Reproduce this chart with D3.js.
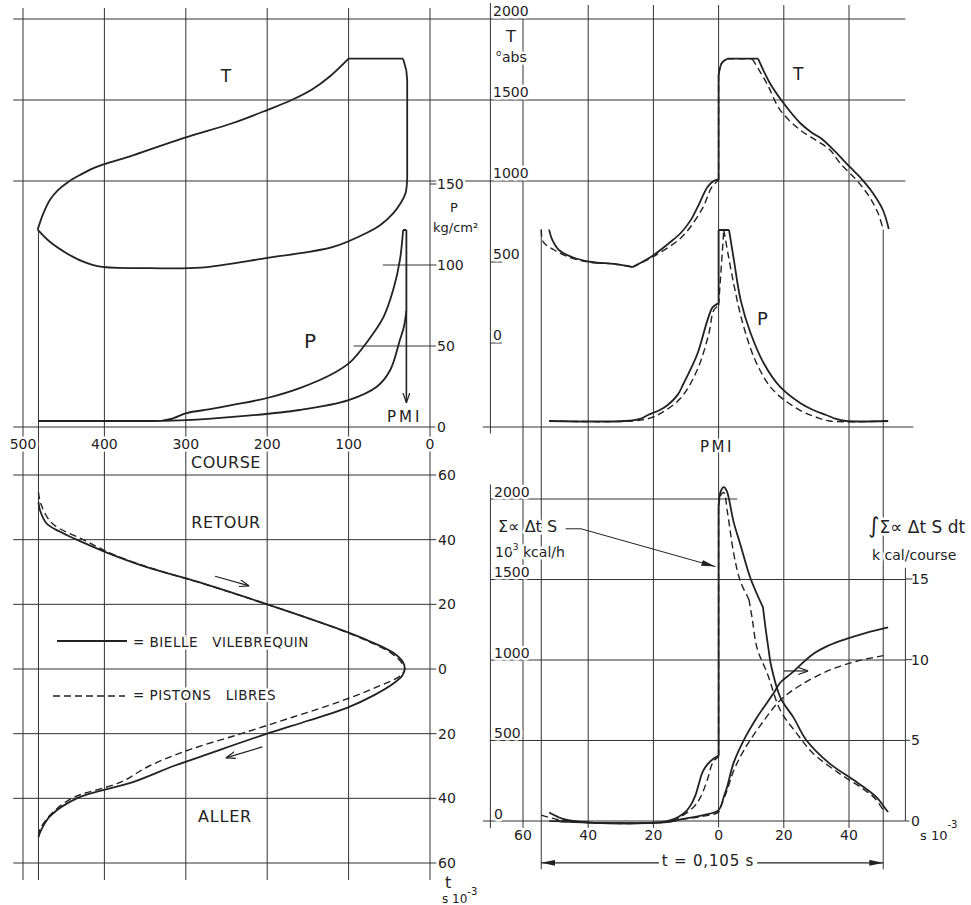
<!DOCTYPE html>
<html>
<head>
<meta charset="utf-8">
<script src="https://cdn.jsdelivr.net/npm/d3@7"></script>
<style>
body { margin: 0; background: #fff; }
svg text { font-family: "DejaVu Sans", sans-serif; fill: #222; white-space: pre; }
.halo { paint-order: stroke; stroke: #fff; stroke-width: 5px; stroke-linejoin: round; }
</style>
</head>
<body>
<svg id="chart" width="971" height="905"></svg>
<script>
// ---- data ----
// third element = 1 marks a corner (curve is broken there)

// top-left: T (abs) against course (mm)
const tCourseLoop = [[482,700,1],[475,800],[467,883],[457,944],[444,996],[430,1037],[414,1078],[397,1109],
  [364,1160],[303,1265],[242,1358],[200,1438],[170,1500],[145,1565],[122,1650],[100,1755,1],[33,1755,1],
  [29,1680,1],[28,1620,1],[28,1020,1],[30,926],[36,864],[45,802],[61,728],[78,679],[119,593],[200,525],
  [282,465],[344,462],[405,471],[426,502],[446,553],[467,625],[482,700,1]];
// top-left: P (kg/cm2) against course
const pCourseLoop = [[481,3.7,1],[330,3.7,1],[315,5.5],[299,8.6],[270,11],[242,13.6],[200,17.9],[160,24],
  [119,33],[98,40],[78,52],[57,68],[45,85],[37,103],[33,121.6,1],[29,121.6,1],[29,72,1],[32,62],[37,53.7],
  [49,35],[65,25],[100,16.6],[160,10.5],[242,6.2],[300,4.2],[340,3.7]];
const pmiArrow = [[29,72],[29,15]];

// bottom-left: course against t (ms)
const strokeSolid = [[481,51.6],[479,49],[471,45],[455,42.5],[434,40],[397,36],[348,31.5],[286,27],[200,20],
  [119,13],[78,9],[45,5],[33,2],[31,0],[34,-2],[45,-4.5],[68,-8],[102,-12],[150,-16],[200,-20],[258,-25],
  [286,-27.5],[315,-30],[365,-35],[434,-40],[467,-45.6],[478,-50],[481,-52]];
const strokeDashed = [[481,54.7],[478,51],[464,45],[426,40],[390,35.5],[340,31],[280,26.5],[200,20],
  [125,13.5],[80,9],[48,5],[35,2],[31,0],[36,-2],[60,-5],[110,-10],[170,-15],[232,-20],[296,-25],[345,-30],
  [380,-35],[440,-40],[466,-45],[478,-49],[481,-51]];
const arrowRetour = [[264,28.7],[222,25.7]];
const arrowAller = [[206,-24.1],[251,-27.5]];

// top-right: T against t
const tTimeSolid = [[-52,700,1],[-51,636],[-49,574],[-45,531],[-39,500],[-32,488],[-26.4,469,1],[-20.8,531],
  [-15,620],[-11.6,679],[-8.5,760],[-6.4,840],[-3.4,963],[-1.5,1000],[0,1010,1],[0,1654,1],[1,1728],
  [2.7,1755,1],[12.1,1755,1],[15.8,1602],[19.9,1481],[25,1358],[28.5,1300],[31.5,1262],[35.1,1195],
  [40.2,1088],[43.3,1025],[47.3,926],[50.4,821],[52.2,704]];
const tTimeDashed = [[-54.4,700,1],[-53.8,624],[-50.4,574],[-46,531],[-40,500],[-32,488],[-26.4,469,1],
  [-19,545],[-11,660],[-5,830],[-2,965],[0,1005,1],[0,1654,1],[1,1730],[2.7,1755,1],[10.3,1755,1],
  [14.8,1602],[18.9,1438],[25,1315],[30,1250],[34.2,1191],[37.2,1111],[42.3,1006],[46.3,901],[48.9,802],
  [50.5,700]];
// top-right: P against t
const pTimeSolid = [[-52,3.7,1],[-29,3.7],[-24,5],[-21.7,7.4],[-18,10.5],[-15.6,13.6],[-12.5,20],[-10.7,27],
  [-8.5,36],[-6.4,45.7],[-3.4,66],[-1.8,74],[0,76.5,1],[0,121.6,1],[3.2,121.6,1],[4.7,103],[6.8,78],
  [9.8,58],[13.8,39.5],[18.9,24.7],[25,14.8],[29,10.5],[33,7.4],[36,5],[39,3.7],[52,3.7]];
const pTimeDashed = [[-52,3.7,1],[-26,3.7],[-21,5.5],[-17.8,8.4],[-11.7,17.7],[-6.6,35],[-3,57.6],[-1.5,72],
  [0,75,1],[1.6,121.6,1],[4.6,88.7],[7.7,61.9],[11.7,39.1],[16.8,22.6],[25,10.3],[30,6],[34,3.7],[52,3.7]];

// bottom-right: heat flux (10^3 kcal/h) and its integral (kcal/course) against t
const fluxSolid = [[-52,53],[-48,15],[-45,2],[-40,-8],[-30,-14],[-20,-10],[-16,-2],[-14,10],[-12,30],
  [-10,60],[-8.5,100],[-7,165],[-6,235],[-5,300],[-3.5,350],[-1.5,388],[0,407,1],[0,1963,1],[0.7,2050],
  [1.6,2074],[2.5,2050],[4.6,1858],[6.7,1716],[9.8,1506],[13.6,1328,1],[14.4,1198],[15.4,1055],[16,975],
  [19,765],[23,642],[27,500],[34,358],[42.4,241],[48.4,148],[51.5,68],[52,56]];
const fluxDashed = [[-54.4,37],[-50,12],[-46,0],[-40,-9],[-30,-14],[-20,-10],[-15,-1],[-11.6,27],[-7.6,88],
  [-5.5,150],[-3.5,253],[-1.7,366],[0,400,1],[0,1950,1],[0.8,2030],[1.6,2040],[2.7,1920],[4.7,1654],
  [6.7,1488],[9.3,1377,1],[10.3,1259],[11.8,1074],[15,913],[19,685],[24,543],[29,420],[37,296],[44,204],
  [48,140],[50.5,68]];
const intSolid = [[-50,0],[-40,-0.1],[-25,-0.15],[-15,-0.05],[-11.7,0.1],[-4.6,0.37],[0,0.68],[1.6,1.5],
  [2.6,2.1],[4.6,3.6],[7.7,5.0],[11.7,6.4],[16.8,7.9],[19,8.6],[22,9.1],[29,10.35],[34,10.9],[39.4,11.3],
  [45,11.65],[52,12.0]];
const intDashed = [[-52,0],[-40,-0.1],[-25,-0.15],[-15,-0.05],[-11.7,0.08],[-4.6,0.3],[0,0.55],[0.6,0.86],
  [2.6,1.9],[4.6,3.1],[7.8,4.4],[13.8,6.2],[19,7.5],[25,8.4],[34,9.35],[42.3,9.9],[50.5,10.25]];
const intArrow = [[20,9.3],[27.5,9.3]];
const fluxLeader = [[-46.9,1815],[-42.2,1815],[-1,1580]];
const period = [-54.4, 50.5];

// tick values
const courseTicks = [500, 400, 300, 200, 100, 0];
const pTicks = [150, 100, 50, 0];
const tempTicks = [2000, 1500, 1000, 500, 0];
const timeTicks = [-60, -40, -20, 0, 20, 40];
const strokeTimeTicks = [60, 40, 20, 0, -20, -40, -60];
const fluxTicks = [2000, 1500, 1000, 500, 0];
const intTicks = [15, 10, 5, 0];

// ---- scales ----
const xC = d3.scaleLinear().domain([500, 0]).range([23, 430]);
const yT = d3.scaleLinear().domain([0, 2000]).range([343, 19]);
const yP = d3.scaleLinear().domain([0, 150]).range([427, 184]);
const xt = d3.scaleLinear().domain([-60, 40]).range([523, 849]);
const yF = d3.scaleLinear().domain([0, 2000]).range([821, 499]);
const yI = d3.scaleLinear().domain([0, 15]).range([821, 579]);
const ys = d3.scaleLinear().domain([-60, 60]).range([863, 475]);

const svg = d3.select("#chart");
const ink = "#222";

const defs = svg.append("defs");
defs.append("marker").attr("id", "open").attr("viewBox", "0 0 10 8")
  .attr("refX", 10).attr("refY", 4).attr("markerWidth", 10).attr("markerHeight", 8)
  .attr("markerUnits", "userSpaceOnUse").attr("orient", "auto")
  .append("path").attr("d", "M0,0.5 L10,4 L0,7.5").attr("fill", "none").attr("stroke", ink).attr("stroke-width", 1.2);
defs.append("marker").attr("id", "solidhead").attr("viewBox", "0 0 14 6")
  .attr("refX", 14).attr("refY", 3).attr("markerWidth", 14).attr("markerHeight", 6)
  .attr("markerUnits", "userSpaceOnUse").attr("orient", "auto-start-reverse")
  .append("path").attr("d", "M0,0 L14,3 L0,6 Z").attr("fill", ink);

// ---- grid ----
const grid = svg.append("g").attr("stroke", "#333").attr("stroke-width", 1).attr("fill", "none");
function seg(x1, y1, x2, y2) {
  grid.append("line").attr("x1", x1).attr("y1", y1).attr("x2", x2).attr("y2", y2);
}
// course verticals (top-left and bottom-left)
courseTicks.forEach(c => seg(xC(c), 8, xC(c), 880));
seg(xC(481), yT(700), xC(481), 880);
// temperature lines across the top
[2000, 1500, 1000].forEach(v => seg(xC(512), yT(v), xt(57.3), yT(v)));
// top-left pressure baseline and ticks
seg(xC(512), yP(0), xC(-8), yP(0));
seg(xC(58), yP(100), xC(-8), yP(100));
seg(xC(94), yP(50), xC(-8), yP(50));
seg(xC(0), yP(150), xC(-8), yP(150));
// bottom-left time lines
strokeTimeTicks.forEach(v => seg(xC(512), ys(v), xC(-8), ys(v)));
// right-hand time verticals
timeTicks.forEach(t => seg(xt(t), 5, xt(t), yF(-43)));
period.forEach(t => seg(xt(t), yT(700), xt(t), yF(-300)));
// temperature axis
seg(xt(-70), 3, xt(-70), yP(-4));
[500, 0].forEach(v => seg(xt(-70), yT(v), xt(-66.5), yT(v)));
seg(xt(-72.3), yP(0), xt(59.7), yP(0));
// flux panel axes and lines
seg(xt(-70), yF(2090), xt(-70), yF(-45));
seg(xt(57.3), yI(15.7), xt(57.3), yI(0));
seg(xt(-70), yF(2000), xt(5.7), yF(2000));
[1500, 1000, 500].forEach(v => seg(xt(-70), yF(v), xt(57.3), yF(v)));
seg(xt(-72.3), yF(0), xt(57.3), yF(0));
intTicks.forEach(v => seg(xt(57.3), yI(v), xt(59.7), yI(v)));

// ---- curves ----
function pathOf(pts, xs, yv) {
  const segs = [];
  let cur = [];
  pts.forEach(p => {
    if (p[2] && cur.length) { cur.push(p); segs.push(cur); cur = [p]; }
    else cur.push(p);
  });
  if (cur.length > 1) segs.push(cur);
  const ln = d3.line().x(p => xs(p[0])).y(p => yv(p[1])).curve(d3.curveCatmullRom.alpha(0.5));
  return segs.map(s => ln(s)).join("");
}
const curves = svg.append("g").attr("fill", "none").attr("stroke", ink).attr("stroke-linejoin", "round");
function draw(pts, xs, yv, dashed) {
  curves.append("path").attr("d", pathOf(pts, xs, yv))
    .attr("stroke-width", dashed ? 1.4 : 1.8)
    .attr("stroke-dasharray", dashed ? "7,4" : null);
}
draw(tCourseLoop, xC, yT);
draw(pCourseLoop, xC, yP);
draw(strokeDashed, xC, ys, true);
draw(strokeSolid, xC, ys);
draw(tTimeDashed, xt, yT, true);
draw(tTimeSolid, xt, yT);
draw(pTimeDashed, xt, yP, true);
draw(pTimeSolid, xt, yP);
draw(fluxDashed, xt, yF, true);
draw(fluxSolid, xt, yF);
draw(intDashed, xt, yI, true);
draw(intSolid, xt, yI);

function arrow(pts, xs, yv, marker, w) {
  curves.append("path").attr("d", d3.line().x(p => xs(p[0])).y(p => yv(p[1]))(pts))
    .attr("stroke-width", w || 1.2).attr("marker-end", `url(#${marker})`);
}
arrow(pmiArrow, xC, yP, "open", 1.6);
arrow(arrowRetour, xC, ys, "open");
arrow(arrowAller, xC, ys, "open");
arrow(intArrow, xt, yI, "open");
arrow(fluxLeader, xt, yF, "solidhead", 1);
// dimension line t = 0,105 s
curves.append("line").attr("x1", xt(period[0])).attr("x2", xt(period[1]))
  .attr("y1", yF(-260)).attr("y2", yF(-260)).attr("stroke-width", 1.1)
  .attr("marker-start", "url(#solidhead)").attr("marker-end", "url(#solidhead)");

// legend (layout in pixels)
curves.append("line").attr("x1", 57).attr("x2", 127).attr("y1", 641).attr("y2", 641).attr("stroke-width", 1.8);
curves.append("line").attr("x1", 53).attr("x2", 125).attr("y1", 696).attr("y2", 696)
  .attr("stroke-width", 1.4).attr("stroke-dasharray", "7,4");

// ---- text ----
const txt = svg.append("g");
function label(x, y, s, size, anchor, extra) {
  const t = txt.append("text").attr("class", "halo").attr("x", x).attr("y", y)
    .attr("font-size", size).attr("text-anchor", anchor || "start").text(s);
  if (extra) extra(t);
  return t;
}
const spaced = n => t => t.attr("letter-spacing", n);
function sup(t, s, size, dy) {
  t.append("tspan").attr("font-size", size).attr("dy", -dy).text(s);
  return t;
}

courseTicks.forEach(c => label(xC(c), 448.5, c, 14, "middle"));
pTicks.forEach(v => label(437, yP(v) + 5, v, 14));
tempTicks.forEach(v => label(493, yT(v) - 3.5, v, 14));
fluxTicks.forEach(v => label(494, yF(v) - 2.5, v, 14));
intTicks.forEach(v => label(911, yI(v) + 5, v, 14));
strokeTimeTicks.forEach(v => label(438, ys(v) + 5, Math.abs(v), 14));
timeTicks.forEach(t => label(xt(t), 840, Math.abs(t), 14, "middle"));

label(226, 82, "T", 17, "middle");
label(310, 348, "P", 20, "middle");
label(387, 422, "PMI", 15, "start", spaced(3));
label(454, 212, "P", 13, "middle");
label(433, 232, "kg/cm²", 13);
label(226, 468, "COURSE", 16, "middle", spaced(0.5));
label(226, 528, "RETOUR", 16, "middle", spaced(0.5));
label(225, 822, "ALLER", 16, "middle", spaced(0.8));
label(133, 647, "= BIELLE   VILEBREQUIN", 13.5, "start", spaced(0.5));
label(133, 700, "= PISTONS   LIBRES", 13.5, "start", spaced(0.5));
label(445, 888, "t", 16);
sup(label(442, 903, "s 10", 12), "-3", 10, 8);

label(506, 42, "T", 16);
label(496, 56, "o", 9);
label(502, 62, "abs", 14);
label(793, 80, "T", 17);
label(757, 325, "P", 18);
label(717, 452, "PMI", 15, "middle", spaced(2.5));

label(498, 532, "Σ∝ Δt S", 16);
sup(label(495, 557, "10", 14), "3", 9, 7).append("tspan").attr("font-size", 14).attr("dy", 7).text(" kcal/h");
const integ = label(868, 533, "", 17);
integ.append("tspan").attr("font-size", 22).text("∫");
integ.append("tspan").text("Σ∝ Δt S dt");
label(872, 560, "k cal/course", 14);
sup(label(920, 840, "s 10", 13), "-3", 10, 12);

// dimension text on a white patch
const dim = label(708, 866, "t = 0,105 s", 15, "middle", spaced(0.8));
const bb = dim.node().getBBox();
txt.insert("rect", () => dim.node()).attr("x", bb.x - 3).attr("y", bb.y).attr("width", bb.width + 6)
  .attr("height", bb.height).attr("fill", "#fff");
</script>
</body>
</html>
